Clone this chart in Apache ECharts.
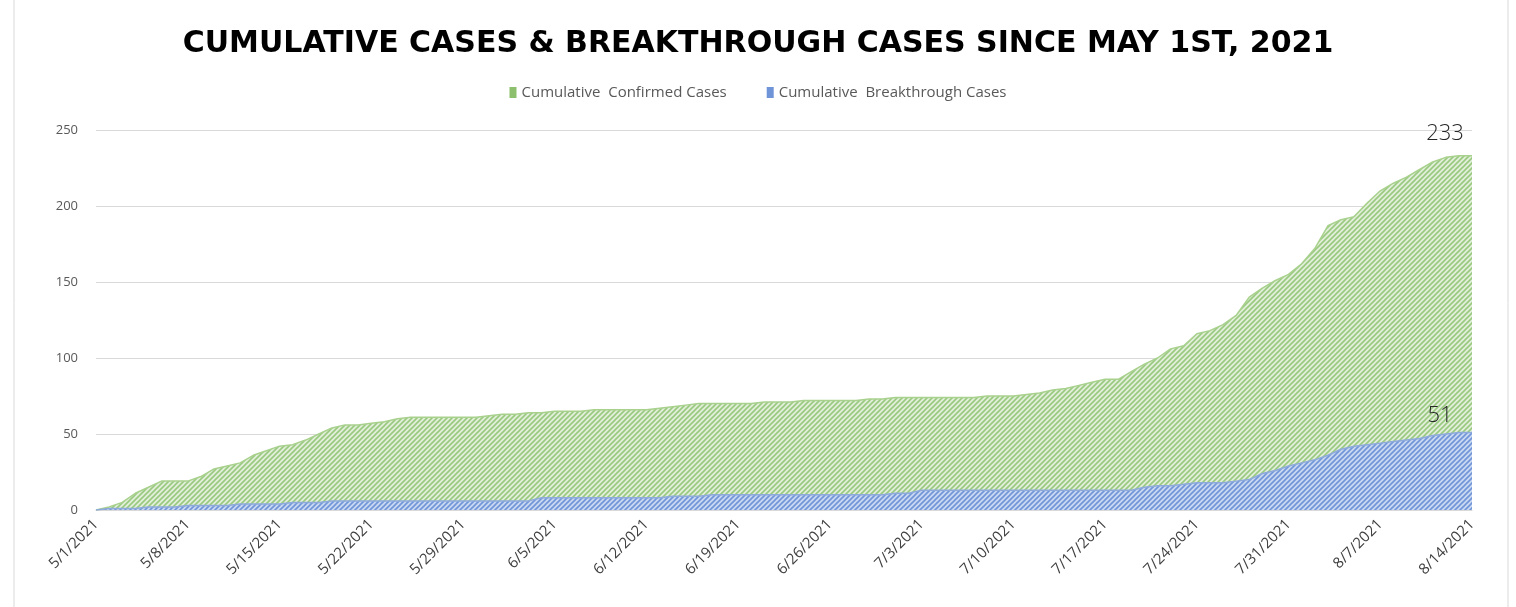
<!DOCTYPE html>
<html>
<head>
<meta charset="utf-8">
<script src="https://cdn.jsdelivr.net/npm/echarts@6/dist/echarts.min.js"></script>
<style>
  html, body { margin: 0; padding: 0; background: #fff; }
  #chart { width: 1516px; height: 607px; }
</style>
</head>
<body>
<div id="chart"></div>
<script>
// daily cumulative counts, 5/1/2021 .. 8/14/2021
var startDate = new Date(2021, 4, 1)
var dayCount = 106

var confirmedCases = [
  0, 2, 5, 11, 15, 19, 19, 19, 22, 27,
  29, 31, 36, 39, 42, 43, 46, 50, 54, 56,
  56, 57, 58, 60, 61, 61, 61, 61, 61, 61,
  62, 63, 63, 64, 64, 65, 65, 65, 66, 66,
  66, 66, 66, 67, 68, 69, 70, 70, 70, 70,
  70, 71, 71, 71, 72, 72, 72, 72, 72, 73,
  73, 74, 74, 74, 74, 74, 74, 74, 75, 75,
  75, 76, 77, 79, 80, 82, 84, 86, 86, 91,
  96, 100, 106, 108, 116, 118, 122, 128, 140, 146,
  151, 155, 162, 172, 187, 191, 193, 202, 210, 215,
  219, 224, 229, 232, 233, 233
]

var breakthroughCases = [
  0, 1, 1, 1, 2, 2, 2, 3, 3, 3,
  3, 4, 4, 4, 4, 5, 5, 5, 6, 6,
  6, 6, 6, 6, 6, 6, 6, 6, 6, 6,
  6, 6, 6, 6, 8, 8, 8, 8, 8, 8,
  8, 8, 8, 8, 9, 9, 9, 10, 10, 10,
  10, 10, 10, 10, 10, 10, 10, 10, 10, 10,
  10, 11, 11, 13, 13, 13, 13, 13, 13, 13,
  13, 13, 13, 13, 13, 13, 13, 13, 13, 13,
  15, 16, 16, 17, 18, 18, 18, 19, 20, 24,
  26, 29, 31, 33, 36, 40, 42, 43, 44, 45,
  46, 47, 49, 50, 51, 51
]

var dates = []
for (var i = 0; i < dayCount; i++) {
  var d = new Date(startDate.getFullYear(), startDate.getMonth(), startDate.getDate() + i)
  dates.push((d.getMonth() + 1) + '/' + d.getDate() + '/' + d.getFullYear())
}

// diagonal hatch like the excel fill
function hatch(bg, fg) {
  var s = 5
  var c = document.createElement('canvas')
  c.width = s
  c.height = s
  var ctx = c.getContext('2d')
  ctx.fillStyle = bg
  ctx.fillRect(0, 0, s, s)
  ctx.strokeStyle = fg
  ctx.lineWidth = 1.6
  ctx.beginPath()
  ctx.moveTo(0, s); ctx.lineTo(s, 0)
  ctx.moveTo(-1, 1); ctx.lineTo(1, -1)
  ctx.moveTo(s - 1, s + 1); ctx.lineTo(s + 1, s - 1)
  ctx.stroke()
  return c
}

function endLabel(offset) {
  return {
    show: true,
    formatter: '{c}',
    distance: 0,
    align: 'center',
    verticalAlign: 'middle',
    offset: offset,
    fontFamily: 'Open Sans',
    fontSize: 22,
    fontWeight: 300,
    color: '#262626'
  }
}

var chart = echarts.init(document.getElementById('chart'))
var option = {
  animation: false,
  backgroundColor: '#fff',
  title: {
    text: 'CUMULATIVE CASES & BREAKTHROUGH CASES SINCE MAY 1ST, 2021',
    left: 'center',
    top: 24,
    textStyle: {
      fontFamily: 'DejaVu Sans',
      fontWeight: 'bold',
      fontSize: 30,
      color: '#000'
    }
  },
  legend: {
    top: 80,
    left: 'center',
    icon: 'rect',
    itemWidth: 7,
    itemHeight: 11,
    itemGap: 40,
    textStyle: {
      fontFamily: 'Open Sans',
      fontSize: 15,
      color: '#595959'
    },
    data: ['Cumulative  Confirmed Cases', 'Cumulative  Breakthrough Cases']
  },
  graphic: [{
    type: 'rect',
    shape: { x: 14, y: -5, width: 1494, height: 620 },
    style: { fill: 'none', stroke: '#d9d9d9', lineWidth: 1 },
    silent: true
  }],
  grid: {
    left: 96,
    right: 44,
    top: 130,
    bottom: 97
  },
  xAxis: {
    type: 'category',
    data: dates,
    boundaryGap: false,
    axisLine: { lineStyle: { color: '#d9d9d9' } },
    axisTick: { show: false },
    axisLabel: {
      interval: 6,
      rotate: 45,
      margin: 12,
      fontFamily: 'Open Sans',
      fontSize: 15,
      color: '#404040'
    }
  },
  yAxis: {
    type: 'value',
    min: 0,
    max: 250,
    interval: 50,
    axisLine: { show: false },
    axisTick: { show: false },
    splitLine: { lineStyle: { color: '#d9d9d9' } },
    axisLabel: {
      margin: 18,
      fontFamily: 'Open Sans',
      fontSize: 13,
      color: '#595959'
    }
  },
  series: [
    {
      name: 'Cumulative  Confirmed Cases',
      type: 'line',
      symbol: 'none',
      itemStyle: { color: '#8cc06c' },
      lineStyle: { width: 1.5, color: '#a9d18e' },
      areaStyle: {
        opacity: 1,
        color: { image: hatch('#e2efda', '#98c97f'), repeat: 'repeat' }
      },
      endLabel: endLabel([-27, -22]),
      data: confirmedCases
    },
    {
      name: 'Cumulative  Breakthrough Cases',
      type: 'line',
      symbol: 'none',
      itemStyle: { color: '#6f94d8' },
      lineStyle: { width: 1.5, color: '#8eaadb' },
      areaStyle: {
        opacity: 1,
        color: { image: hatch('#c9d8f1', '#6f94d8'), repeat: 'repeat' }
      },
      endLabel: endLabel([-32, -17]),
      data: breakthroughCases
    }
  ]
}
chart.setOption(option)
</script>
</body>
</html>
